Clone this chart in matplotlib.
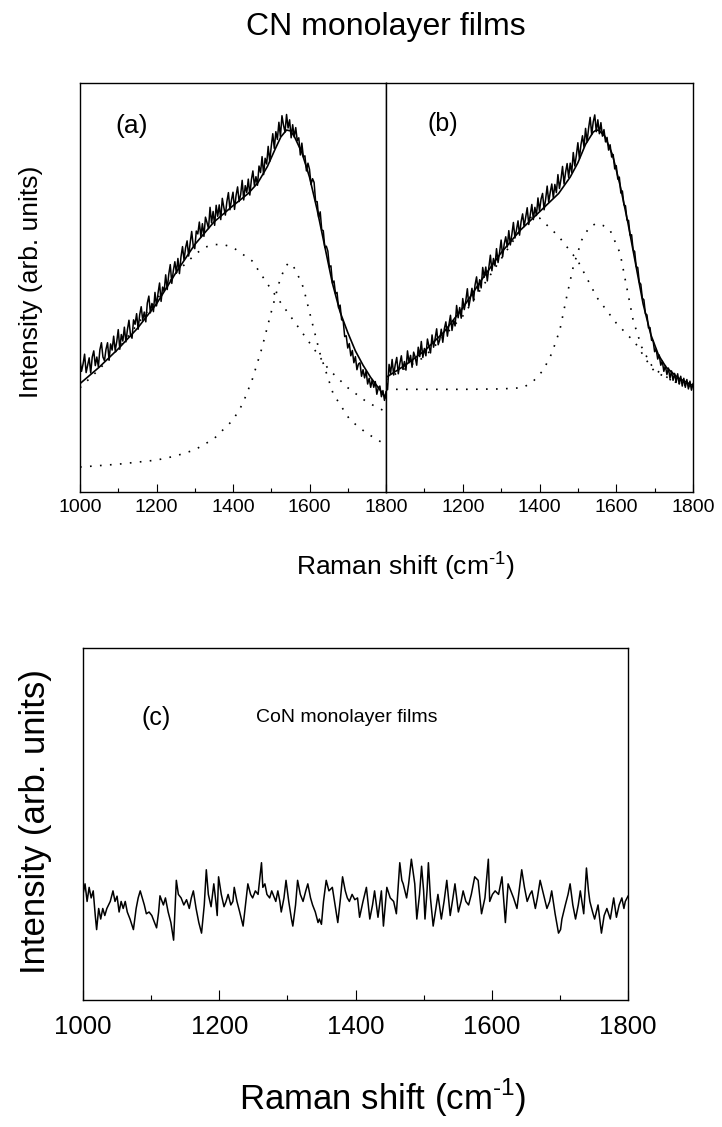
import numpy as np
import matplotlib
matplotlib.use("Agg")
import matplotlib.pyplot as plt
from matplotlib.ticker import MultipleLocator, FixedLocator, FixedFormatter

plt.rcParams['font.family'] = ['Liberation Sans', 'DejaVu Sans']
plt.rcParams['mathtext.fontset'] = 'custom'
plt.rcParams['mathtext.rm'] = 'Liberation Sans'

# ---------------- data ----------------
# Raman shift axis for measured CN spectra (step 4 cm-1)
shift_ab = list(range(1000, 1801, 4))

# (a) measured spectrum
spec_a = [32.3, 29.5, 31.3, 33.7, 29.2, 31.0, 32.8, 29.1, 33.0, 34.5,
          30.9, 33.0, 30.6, 34.8, 36.5, 33.0, 32.1, 34.9, 36.5, 32.2,
          36.2, 34.7, 38.1, 34.6, 36.7, 39.7, 34.9, 38.5, 36.9, 40.3,
          36.7, 39.7, 42.0, 38.4, 37.6, 42.1, 41.0, 43.6, 39.8, 43.3,
          45.3, 42.0, 44.0, 41.6, 46.2, 47.9, 43.8, 46.1, 44.1, 48.8,
          45.5, 48.6, 51.1, 46.6, 50.1, 49.1, 53.1, 49.5, 53.2, 55.6,
          51.0, 54.1, 56.3, 53.5, 57.1, 53.4, 57.5, 60.0, 56.7, 59.7,
          61.4, 57.7, 60.9, 63.7, 60.2, 59.5, 63.8, 63.1, 66.0, 62.4,
          65.6, 62.5, 67.2, 65.9, 64.4, 69.6, 65.8, 68.6, 65.2, 70.1,
          67.4, 70.2, 66.6, 71.8, 69.6, 67.7, 71.0, 73.2, 69.0, 71.4,
          73.3, 69.1, 72.5, 74.6, 71.0, 72.7, 76.2, 71.4, 74.9, 73.2,
          76.5, 72.6, 76.3, 78.5, 74.9, 77.1, 75.0, 79.7, 78.1, 82.0,
          77.6, 81.6, 80.2, 84.5, 80.8, 84.5, 87.6, 84.0, 88.1, 86.2,
          90.4, 86.9, 92.0, 89.7, 88.0, 92.3, 89.0, 91.0, 86.6, 89.8,
          86.8, 89.1, 85.9, 86.6, 82.4, 85.3, 81.9, 82.2, 78.5, 80.4,
          78.9, 75.2, 76.6, 75.7, 71.0, 71.0, 67.1, 68.5, 64.1, 63.9,
          59.8, 60.1, 58.9, 55.0, 55.3, 51.1, 51.6, 48.5, 48.8, 45.0,
          45.7, 42.1, 41.9, 38.0, 38.2, 35.2, 36.3, 33.3, 34.6, 31.6,
          33.1, 29.9, 31.3, 31.6, 28.3, 29.9, 27.9, 29.6, 26.4, 27.8,
          25.6, 27.5, 25.6, 27.0, 23.9, 25.5, 25.9, 23.3, 24.8, 22.4,
          24.5]

# (b) measured spectrum
spec_b = [27.0, 25.0, 31.2, 29.0, 32.4, 28.6, 31.1, 32.9, 28.9, 31.4,
          33.3, 30.0, 31.9, 29.8, 34.5, 31.6, 33.4, 30.5, 34.2, 33.0,
          31.0, 35.4, 33.1, 36.8, 32.9, 35.1, 33.3, 37.4, 35.6, 34.0,
          38.4, 35.4, 37.5, 39.9, 36.0, 37.2, 39.8, 36.6, 39.9, 41.6,
          38.1, 40.9, 43.2, 39.5, 42.0, 40.6, 45.6, 42.6, 45.1, 42.5,
          47.3, 44.6, 46.8, 49.7, 45.4, 47.5, 49.8, 46.7, 50.6, 52.6,
          49.1, 51.9, 49.9, 54.9, 52.5, 55.0, 51.6, 54.9, 57.9, 54.1,
          57.1, 55.3, 59.5, 56.1, 58.6, 61.6, 57.5, 60.6, 62.4, 59.9,
          63.9, 60.4, 63.0, 65.9, 62.1, 64.1, 66.3, 62.8, 66.1, 68.0,
          64.9, 67.2, 69.5, 65.4, 67.8, 70.3, 66.6, 69.6, 67.6, 71.9,
          68.7, 71.6, 73.0, 69.0, 71.6, 74.8, 70.9, 73.3, 75.3, 71.9,
          75.2, 73.2, 77.6, 74.2, 76.5, 79.6, 75.3, 78.2, 80.3, 76.9,
          80.4, 78.1, 83.0, 79.7, 82.3, 85.4, 81.5, 84.9, 87.1, 84.3,
          88.9, 85.6, 89.0, 91.6, 87.4, 90.5, 92.2, 88.1, 91.0, 87.6,
          90.3, 87.0, 88.6, 85.6, 86.7, 83.6, 84.9, 81.9, 82.5, 79.0,
          79.8, 76.5, 77.0, 73.1, 73.6, 70.2, 70.0, 66.5, 66.4, 62.8,
          62.9, 59.2, 58.8, 55.1, 54.9, 51.3, 50.8, 47.4, 47.0, 43.6,
          43.3, 40.1, 40.2, 37.1, 37.0, 34.3, 34.9, 32.5, 33.5, 31.0,
          32.0, 29.5, 30.9, 28.7, 30.3, 27.8, 29.6, 27.3, 29.0, 26.8,
          28.9, 26.4, 28.3, 25.9, 27.8, 25.6, 27.5, 25.2, 27.1, 24.9,
          26.5]

# (a) fitted envelope and components
fit_a_x = [1000, 1050, 1100, 1150, 1200, 1250, 1300, 1350, 1400, 1440, 1465, 1490,
           1510, 1525, 1540, 1550, 1560, 1580, 1600, 1620, 1640, 1660, 1680, 1700,
           1720, 1740, 1760, 1780, 1800]
fit_a_y = [26.5, 30.5, 35.0, 40.0, 46.0, 53.5, 60.5, 66.0, 70.0, 73.0, 75.6, 79.6,
           83.8, 86.8, 88.5, 88.3, 87.0, 83.0, 77.0, 69.0, 60.0, 51.0, 44.0, 39.0,
           34.5, 31.0, 28.0, 25.5, 23.0]
broad_a_x = [1000, 1050, 1100, 1150, 1200, 1250, 1300, 1325, 1350, 1375, 1400, 1450,
             1500, 1550, 1600, 1650, 1700, 1750, 1800]
broad_a_y = [25.5, 30.0, 35.0, 41.0, 47.0, 53.5, 58.0, 59.8, 60.5, 60.5, 59.8, 56.5,
             49.5, 43.0, 36.5, 30.0, 25.5, 22.0, 19.6]
narrow_a_x = [1000, 1100, 1200, 1250, 1300, 1350, 1400, 1425, 1450, 1475, 1500, 1520,
              1535, 1545, 1555, 1565, 1584, 1600, 1627, 1662, 1706, 1749, 1800]
narrow_a_y = [6.1, 6.8, 7.8, 8.8, 10.3, 13.0, 17.6, 21.5, 27.4, 35.0, 44.0, 51.0,
              54.8, 56.0, 55.6, 54.0, 50.0, 44.0, 34.0, 24.0, 17.6, 14.4, 11.5]

# (b) fitted envelope and components
fit_b_x = [1000, 1050, 1100, 1150, 1200, 1250, 1300, 1350, 1400, 1450, 1480, 1500,
           1520, 1540, 1548, 1555, 1570, 1590, 1610, 1630, 1650, 1670, 1690, 1710,
           1730, 1760, 1800]
fit_b_y = [28.0, 31.0, 34.5, 39.0, 45.0, 52.0, 58.5, 64.0, 68.5, 73.0, 77.0, 80.5,
           85.0, 88.0, 88.5, 88.4, 87.0, 82.5, 75.0, 66.0, 56.0, 46.0, 38.5, 33.5,
           30.5, 28.0, 26.0]
broad_b_x = [1000, 1100, 1200, 1250, 1300, 1350, 1370, 1385, 1400, 1450, 1500, 1550,
             1600, 1650, 1690, 1700, 1750, 1800]
broad_b_y = [27.5, 33.0, 43.0, 50.0, 57.0, 64.0, 66.8, 67.5, 67.0, 62.5, 56.5, 47.5,
             41.3, 36.4, 30.6, 29.5, 27.0, 25.5]
narrow_b_x = [1000, 1100, 1200, 1300, 1357, 1383, 1410, 1432, 1453, 1471, 1488, 1510,
              1530, 1549, 1565, 1584, 1610, 1627, 1644, 1666, 1688, 1700, 1750, 1800]
narrow_b_y = [25.1, 25.1, 25.1, 25.2, 25.5, 27.0, 29.8, 33.9, 39.6, 47.8, 55.1, 61.6,
              64.8, 65.7, 65.2, 64.0, 58.4, 50.2, 42.0, 35.5, 31.5, 30.0, 27.0, 25.5]

# (c) CoN spectrum
shift_c = [1000, 1003, 1006, 1009, 1012, 1015, 1018, 1020, 1023, 1026, 1029, 1032, 1035,
           1040, 1044, 1047, 1050, 1053, 1056, 1059, 1062, 1065, 1069, 1074, 1078, 1081,
           1084, 1087, 1090, 1093, 1097, 1101, 1105, 1108, 1111, 1113, 1116, 1118, 1121,
           1125, 1129, 1133, 1137, 1140, 1144, 1148, 1152, 1156, 1159, 1162, 1166, 1170,
           1174, 1178, 1181, 1184, 1188, 1192, 1195, 1197, 1199, 1203, 1207, 1210, 1213,
           1217, 1220, 1222, 1226, 1230, 1235, 1239, 1242, 1246, 1249, 1253, 1257, 1262,
           1264, 1267, 1270, 1274, 1277, 1279, 1283, 1286, 1289, 1291, 1295, 1298, 1302,
           1306, 1308, 1312, 1315, 1319, 1323, 1327, 1330, 1334, 1337, 1341, 1345, 1347,
           1350, 1353, 1357, 1361, 1366, 1370, 1374, 1378, 1381, 1385, 1388, 1391, 1395,
           1399, 1403, 1406, 1411, 1416, 1421, 1425, 1428, 1433, 1438, 1441, 1446, 1451,
           1456, 1460, 1465, 1468, 1470, 1475, 1478, 1482, 1487, 1490, 1494, 1497, 1500,
           1502, 1505, 1507, 1510, 1514, 1518, 1521, 1526, 1530, 1534, 1539, 1543, 1546,
           1551, 1555, 1558, 1562, 1566, 1570, 1575, 1580, 1585, 1590, 1595, 1597, 1601,
           1605, 1610, 1615, 1620, 1624, 1628, 1632, 1637, 1644, 1648, 1652, 1656, 1659,
           1664, 1667, 1671, 1676, 1681, 1685, 1688, 1693, 1698, 1701, 1703, 1708, 1712,
           1715, 1719, 1723, 1727, 1730, 1735, 1739, 1742, 1744, 1748, 1751, 1756, 1761,
           1765, 1769, 1774, 1779, 1783, 1787, 1791, 1794, 1796, 1800]
spec_c = [30, 33, 28, 32, 29, 31, 24, 20, 26, 23, 26, 24, 26,
          28, 31, 28, 29.5, 25, 28, 26, 28, 25, 23, 20, 26, 29,
          31, 29, 27, 24.5, 25, 24, 22, 20.5, 25, 29.6, 28, 27, 29,
          25, 22, 17, 34, 30, 29, 27, 28.5, 26, 29, 31, 26, 22,
          19, 27, 37, 30, 26.5, 33, 28, 24, 35, 30, 26.5, 28, 30,
          27, 28, 32, 28, 25, 21, 28, 33, 30, 29, 31, 30, 39,
          32, 33, 30, 29, 31, 30, 28, 31, 28, 25, 29, 34, 28,
          23, 21, 27, 34, 30, 28, 31, 33, 29, 27, 25, 22, 23,
          21.5, 28, 34, 31, 32, 27, 22, 29, 35, 31, 29, 28, 30,
          28.5, 29, 23.5, 28, 32, 23, 27, 31, 23.5, 31, 21, 32, 29,
          28, 24.5, 39, 34, 33, 29, 33, 40, 33, 23, 30, 38, 31,
          23, 31, 39, 29, 21, 26, 30, 23, 28, 34, 24, 29, 33,
          25, 28, 31, 28, 27, 30, 35, 34, 24.5, 29, 40, 28, 30,
          31, 30, 35, 22, 33, 31, 29, 26, 37, 32, 28, 30, 31,
          26, 29, 34, 30, 26, 28, 31, 24.5, 19, 20, 23, 27, 30,
          33, 27, 23, 27, 31, 24.5, 37.5, 31, 28, 25, 23, 27, 19,
          24, 26, 23, 29, 23.5, 27, 29, 26, 28, 29.5]

major_ticks = [1000, 1200, 1400, 1600, 1800]

assert len(spec_a) == len(shift_ab) and len(spec_b) == len(shift_ab)
assert len(shift_c) == len(spec_c)

xlabel_txt = r'Raman shift (cm$^{\text{-}1}$)'

# ---------------- figure ----------------
fig = plt.figure(figsize=(7.22, 11.27), dpi=100)

ax_a = fig.add_axes([80/722, 1 - 492/1127, 306/722, 409/1127])
ax_b = fig.add_axes([386/722, 1 - 492/1127, 307/722, 409/1127])
ax_c = fig.add_axes([83/722, 1 - 1000/1127, 545/722, 352/1127])

dot = (0, (1, 5))
for ax, spec, fx, fy, bx, by, nx, ny in [
        (ax_a, spec_a, fit_a_x, fit_a_y, broad_a_x, broad_a_y, narrow_a_x, narrow_a_y),
        (ax_b, spec_b, fit_b_x, fit_b_y, broad_b_x, broad_b_y, narrow_b_x, narrow_b_y)]:
    ax.plot(bx, by, color='black', lw=1.2, linestyle=dot)
    ax.plot(nx, ny, color='black', lw=1.2, linestyle=dot)
    ax.plot(shift_ab, spec, color='black', lw=1.1)
    ax.plot(fx, fy, color='black', lw=1.2)
    ax.set_xlim(1000, 1800)
    ax.set_ylim(0, 100)
    ax.set_yticks([])
    ax.xaxis.set_major_locator(FixedLocator(major_ticks))
    ax.xaxis.set_minor_locator(MultipleLocator(100))
    ax.tick_params(axis='x', which='major', direction='in', length=6, width=0.8,
                   labelsize=14, pad=5)
    ax.tick_params(axis='x', which='minor', direction='in', length=3, width=0.8)
    for s in ax.spines.values():
        s.set_linewidth(1.0)

ax_b.xaxis.set_major_formatter(FixedFormatter(['', '1200', '1400', '1600', '1800']))

ax_a.text(132/722, 1 - 126/1127, '(a)', transform=fig.transFigure, fontsize=19,
          ha='center', va='center')
ax_b.text(443/722, 1 - 124/1127, '(b)', transform=fig.transFigure, fontsize=18,
          ha='center', va='center')

fig.text(31/722, 1 - 282/1127, 'Intensity (arb. units)', fontsize=19, rotation=90,
         ha='center', va='center')
fig.text(386/722, 1 - 27/1127, 'CN monolayer films', fontsize=23, ha='center', va='center')
fig.text(405/722, 1 - 566/1127, xlabel_txt, fontsize=19, ha='center', va='center')

ax_c.plot(shift_c, spec_c, color='black', lw=1.1)
ax_c.set_xlim(1000, 1800)
ax_c.set_ylim(0, 100)
ax_c.set_yticks([])
ax_c.xaxis.set_major_locator(FixedLocator(major_ticks))
ax_c.xaxis.set_minor_locator(MultipleLocator(100))
ax_c.tick_params(axis='x', which='major', direction='in', length=7, width=0.8,
                 labelsize=18.5, pad=11)
ax_c.tick_params(axis='x', which='minor', direction='in', length=3.5, width=0.8)
for s in ax_c.spines.values():
    s.set_linewidth(1.0)
fig.text(156/722, 1 - 718/1127, '(c)', fontsize=18, ha='center', va='center')
fig.text(347/722, 1 - 718/1127, 'CoN monolayer films', fontsize=14, ha='center', va='center')
fig.text(36/722, 1 - 822/1127, 'Intensity (arb. units)', fontsize=25, rotation=90,
         ha='center', va='center')
fig.text(383/722, 1 - 1098/1127, xlabel_txt, fontsize=25, ha='center', va='center')

fig.savefig('out.png', dpi=100)
